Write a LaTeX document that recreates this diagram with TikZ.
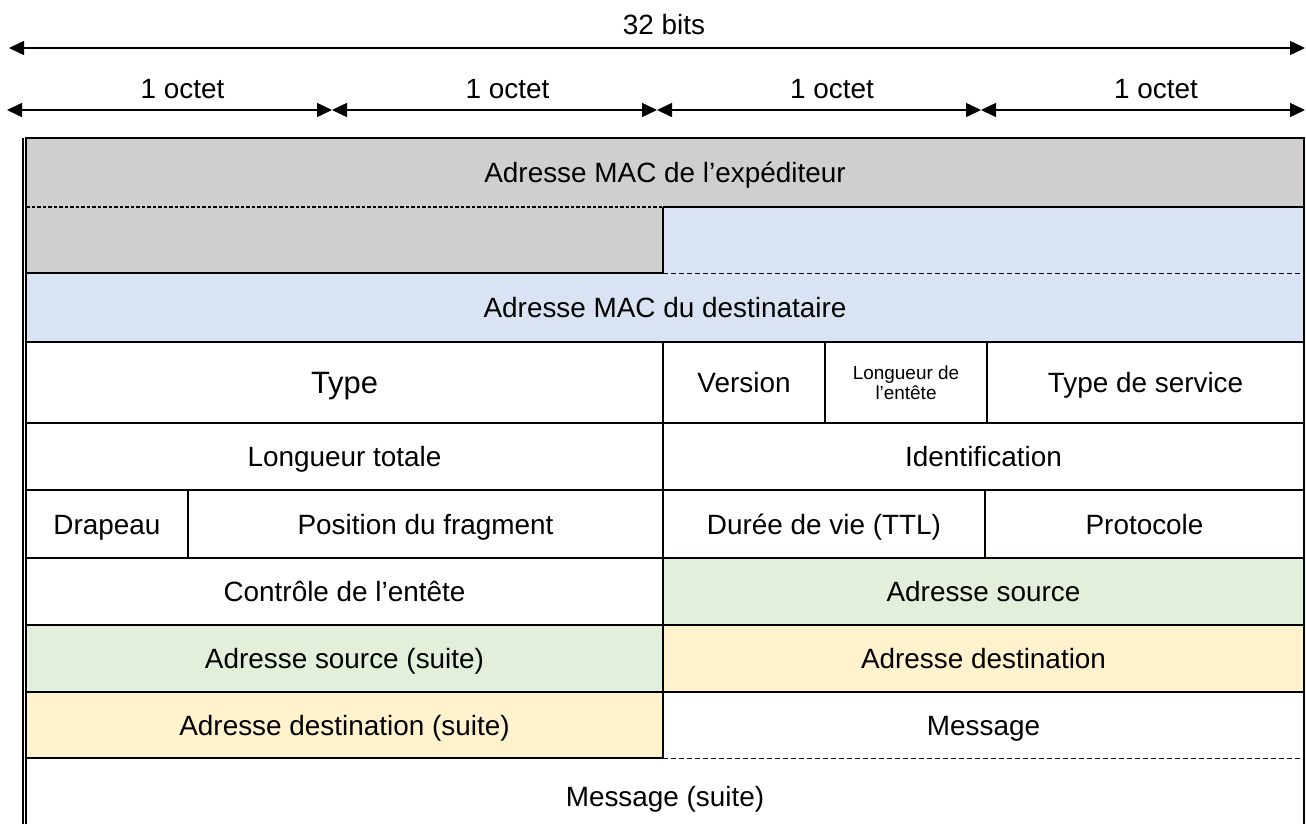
\documentclass[tikz,border=0pt]{standalone}
\usepackage{fontspec}
\setmainfont{Liberation Sans}
\usetikzlibrary{arrows.meta}

\definecolor{macgray}{HTML}{D0CECE}
\definecolor{macblue}{HTML}{DAE3F3}
\definecolor{srcgreen}{HTML}{E2EFDA}
\definecolor{dstyellow}{HTML}{FFF2CC}

\tikzset{
  field/.style={rectangle, inner sep=0pt, outer sep=0pt, anchor=north west, align=center,
    font=\fontsize{28}{32}\selectfont, text height=20bp, text depth=0bp},
  cell/.style 2 args={minimum width=#1bp, minimum height=#2bp},
  rule/.style={line width=1.8bp},
  cut/.style={line width=1.8bp, dash pattern=on 3.5bp off 2bp},
  cutthin/.style={line width=1bp, dash pattern=on 5bp off 3bp},
  span/.style={line width=1.5bp, {Triangle[length=15bp,width=14bp]}-{Triangle[length=15bp,width=14bp]}},
  label/.style={font=\fontsize{28}{32}\selectfont, inner sep=0pt}
}

\begin{document}
\begin{tikzpicture}[x=1bp, y=-1bp]
\useasboundingbox (0,0) rectangle (1306,823);

% widths above the frame
\coordinate (w0) at (9,48);
\coordinate (w1) at (1305,48);
\draw[span] (w0) -- (w1);
\node[label] (bits) at (664,25) {32 bits};
\foreach \i/\xa/\xb in {1/7/332, 2/332/657, 3/657/981, 4/981/1305} {
  \coordinate (oa\i) at (\xa,110);
  \coordinate (ob\i) at (\xb,110);
  \draw[span] (oa\i) -- (ob\i);
  \node[label] (octet\i) at ({(\xa+\xb)/2+13},89) {1 octet};
}

% fields
\node[field, cell={1278}{69}, fill=macgray] (macsrc) at (26,138) {Adresse MAC de l’expéditeur};
\node[field, cell={637}{66}, fill=macgray] (macsrcb) at (macsrc.south west) {};
\node[field, cell={641}{66}, fill=macblue] (macdst) at (macsrcb.north east) {};
\node[field, cell={1278}{69}, fill=macblue] (macdstb) at (macsrcb.south west) {Adresse MAC du destinataire};
\node[field, cell={637}{81}, font=\fontsize{31}{34}\selectfont, text height=22bp] (type) at (macdstb.south west) {Type};
\node[field, cell={162}{81}] (version) at (type.north east) {Version};
\node[field, cell={162}{81}, font=\fontsize{19}{20}\selectfont, text height={}, text depth={}] (ihl) at (version.north east) {Longueur de\\l’entête};
\node[field, cell={317}{81}] (tos) at (ihl.north east) {Type de service};
\node[field, cell={637}{67}] (totlen) at (type.south west) {Longueur totale};
\node[field, cell={641}{67}] (ident) at (totlen.north east) {Identification};
\node[field, cell={162}{68}] (flag) at (totlen.south west) {Drapeau};
\node[field, cell={475}{68}] (fragpos) at (flag.north east) {Position du fragment};
\node[field, cell={322}{68}] (ttl) at (fragpos.north east) {Durée de vie (TTL)};
\node[field, cell={319}{68}] (proto) at (ttl.north east) {Protocole};
\node[field, cell={637}{67}] (chksum) at (flag.south west) {Contrôle de l’entête};
\node[field, cell={641}{67}, fill=srcgreen] (srca) at (chksum.north east) {Adresse source};
\node[field, cell={637}{67}, fill=srcgreen] (srcb) at (chksum.south west) {Adresse source (suite)};
\node[field, cell={641}{67}, fill=dstyellow] (dsta) at (srcb.north east) {Adresse destination};
\node[field, cell={637}{66}, fill=dstyellow] (dstb) at (srcb.south west) {Adresse destination (suite)};
\node[field, cell={641}{66}] (msga) at (dstb.north east) {Message};
\node[field, cell={1278}{77}] (msgb) at (dstb.south west) {Message (suite)};

% frame, with the doubled left side
\draw[rule] (msgb.south west) -- (macsrc.north west) -- (macsrc.north east) -- (msgb.south east);
\draw[rule] ([xshift=-3.3bp]macsrc.north west) -- ([xshift=-3.3bp]msgb.south west);

% inner rules
\foreach \a/\b in {macdst.north west/macdst.north east, macdst.north west/macdst.south west,
    macsrcb.south west/macsrcb.south east, type.north west/tos.north east,
    type.south west/tos.south east, type.north east/type.south east,
    version.north east/version.south east, ihl.north east/ihl.south east,
    totlen.north east/totlen.south east, flag.north west/proto.north east,
    flag.north east/flag.south east, fragpos.north east/fragpos.south east,
    ttl.north east/ttl.south east, chksum.north west/srca.north east,
    srcb.north west/dsta.north east, dstb.north west/msga.north east,
    chksum.north east/dstb.south east, dstb.south west/dstb.south east}
  \draw[rule] (\a) -- (\b);

% split words
\draw[cut] (macsrcb.north west) -- (macsrcb.north east);
\draw[cutthin] (macdst.south west) -- (macdst.south east);
\draw[cutthin] (msga.south west) -- (msga.south east);
\end{tikzpicture}
\end{document}
